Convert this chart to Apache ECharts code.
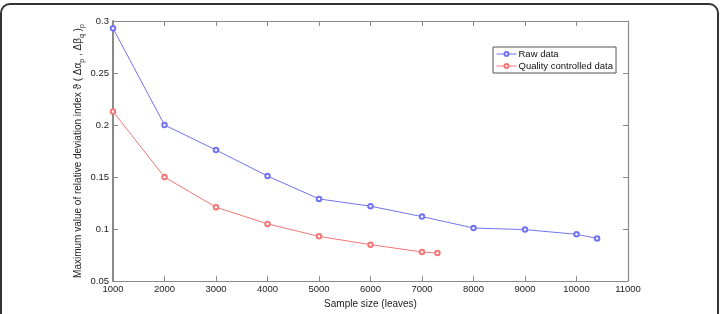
<!DOCTYPE html>
<html>
<head>
<meta charset="utf-8">
<script src="https://cdn.jsdelivr.net/npm/echarts@6/dist/echarts.min.js"></script>
<style>
  html, body { margin: 0; padding: 0; background: #fff; }
  #chart { width: 727px; height: 314px; }
</style>
</head>
<body>
<div id="chart"></div>
<script>
// sample sizes (leaves) and max relative deviation index
const rawX = [1000, 2000, 3000, 4000, 5000, 6000, 7000, 8000, 9000, 10000, 10400];
const rawY = [0.293, 0.200, 0.176, 0.151, 0.129, 0.122, 0.112, 0.101, 0.0995, 0.095, 0.091];
const qcX = [1000, 2000, 3000, 4000, 5000, 6000, 7000, 7300];
const qcY = [0.213, 0.150, 0.121, 0.105, 0.093, 0.085, 0.078, 0.077];
const seriesNames = ['Raw data', 'Quality controlled data'];

const pair = (xs, ys) => xs.map((x, i) => [x, ys[i]]);

var chart = echarts.init(document.getElementById('chart'));
const font = 'Liberation Sans, Arial, sans-serif';
const axisCol = '#8a8a8a';

var option = {
    animation: false,
    textStyle: { fontFamily: font },
    grid: { left: 113, right: 99, top: 21, bottom: 25 },
    legend: {
        data: seriesNames,
        orient: 'vertical',
        left: 493,
        top: 47,
        width: 120,
        backgroundColor: '#fff',
        borderColor: '#555',
        borderWidth: 1,
        borderRadius: 0,
        padding: [2, 3, 2, 3],
        itemGap: 2,
        itemWidth: 20,
        itemHeight: 5,
        itemStyle: { borderWidth: 1 },
        lineStyle: { width: 1 },
        textStyle: { fontSize: 9.5, color: '#111', fontFamily: font, padding: [0, 0, 0, -3] }
    },
    xAxis: [
        {
            type: 'value', min: 1000, max: 11000, interval: 1000,
            name: 'Sample size (leaves)',
            nameLocation: 'middle', nameGap: 15,
            nameTextStyle: { fontSize: 10, color: '#222' },
            axisLine: { show: true, lineStyle: { color: axisCol, width: 1.2 } },
            axisTick: { show: true, inside: true, length: 5, lineStyle: { color: axisCol } },
            axisLabel: { fontSize: 9.5, color: '#222', margin: 3, formatter: v => String(v) },
            splitLine: { show: false }
        },
        {
            type: 'value', min: 1000, max: 11000, interval: 1000, position: 'top',
            axisLine: { show: true, lineStyle: { color: axisCol, width: 1.2 } },
            axisTick: { show: true, inside: true, length: 5, lineStyle: { color: axisCol } },
            axisLabel: { show: false },
            splitLine: { show: false }
        }
    ],
    yAxis: [
        {
            type: 'value', min: 0.05, max: 0.3, interval: 0.05,
            name: '{t|Maximum value of relative deviation index ϑ ( Δα}{s|p}{t| , Δβ}{s|q}{t| )}{s|p}',
            nameLocation: 'middle', nameGap: 27, nameRotate: 90,
            nameMoveOverlap: false,
            nameTextStyle: {
                color: '#222',
                rich: {
                    t: { fontSize: 10, color: '#222', fontFamily: font, verticalAlign: 'top' },
                    s: { fontSize: 7, color: '#222', fontFamily: font, verticalAlign: 'bottom', padding: [6, 0, 0, 0] }
                }
            },
            axisLine: { show: true, lineStyle: { color: axisCol, width: 2 } },
            axisTick: { show: true, inside: true, length: 5, lineStyle: { color: axisCol } },
            axisLabel: { fontSize: 9.5, color: '#222', margin: 4, formatter: v => String(+v.toFixed(2)) },
            splitLine: { show: false }
        },
        {
            type: 'value', min: 0.05, max: 0.3, interval: 0.05, position: 'right',
            axisLine: { show: true, lineStyle: { color: axisCol, width: 1.2 } },
            axisTick: { show: true, inside: true, length: 5, lineStyle: { color: axisCol } },
            axisLabel: { show: false },
            splitLine: { show: false }
        }
    ],
    series: [
        {
            name: seriesNames[0], type: 'line', data: pair(rawX, rawY),
            symbol: 'emptyCircle', symbolSize: 4.5,
            lineStyle: { color: '#7373f0', width: 1 },
            itemStyle: { color: '#7373f0', borderWidth: 1 }
        },
        {
            name: seriesNames[1], type: 'line', data: pair(qcX, qcY),
            symbol: 'emptyCircle', symbolSize: 4.5,
            lineStyle: { color: '#f27777', width: 1 },
            itemStyle: { color: '#f27777', borderWidth: 1 }
        }
    ],
    graphic: [
        {
            type: 'rect', silent: true, z: -1,
            shape: { x: 1, y: 4, width: 717, height: 340, r: 9 },
            style: { fill: 'none', stroke: '#333', lineWidth: 2 }
        }
    ]
};

option && chart.setOption(option);
</script>
</body>
</html>
